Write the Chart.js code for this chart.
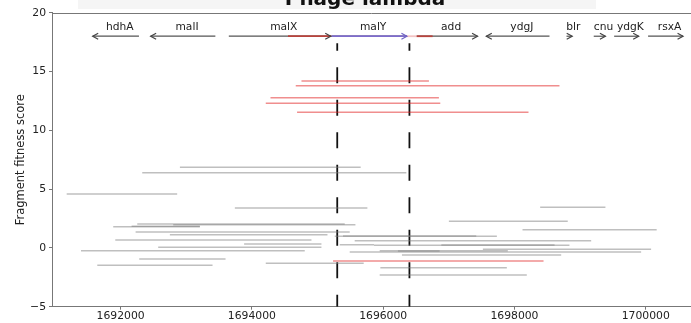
<!DOCTYPE html>
<html>
<head>
<meta charset="utf-8">
<script src="https://cdn.jsdelivr.net/npm/chart.js@4/dist/chart.umd.min.js"></script>
<style>
html,body{margin:0;padding:0;background:#fff;}
#wrap{width:691px;height:323px;position:relative;}
</style>
</head>
<body>
<div id="wrap"><canvas id="c" width="691" height="323"></canvas></div>
<script>
// ---- data ----
const chartTitle = "Phage lambda";
const xTicks = [1692000, 1694000, 1696000, 1698000, 1700000];
const yTicks = [-5, 0, 5, 10, 15, 20];

// genes (bp coordinates, strand)
const geneNames  = ["hdhA", "malI", "malX", "malY", "add", "ydgJ", "blr", "cnu", "ydgK", "rsxA"];
const geneLeft   = [1691574, 1692457, 1693648, 1695211, 1696510, 1697571, 1698793, 1699208, 1699519, 1700036];
const geneRight  = [1692279, 1693443, 1695201, 1696362, 1697438, 1698534, 1698880, 1699386, 1699893, 1700569];
const geneStrand = [-1, -1, 1, 1, 1, -1, 1, 1, 1, 1];
const geneTrackY = 18.0;

// highlighted region on gene track
const hlStart = [1694550, 1695211, 1696362, 1696510];
const hlEnd   = [1695211, 1696362, 1696510, 1696753];
const hlKind  = ["red", "blue", "pink", "red"];

// fragments: grey
const greyStart = [1692903,1692329,1691178,1693740,1698392,1697001,1692253,1692801,1691887,1692167,
                   1698123,1692228,1692750,1695262,1695388,1691918,1695566,1693881,1695338,1696886,
                   1695860,1692572,1691396,1697519,1695947,1696225,1695490,1696286,1692283,1694211,
                   1691644,1695957,1695947];
const greyEnd   = [1695657,1696353,1692861,1695759,1699386,1698812,1695414,1695577,1693207,1693207,
                   1700167,1695490,1695151,1697732,1697418,1694907,1699169,1695059,1695860,1698611,
                   1698838,1695059,1694805,1700082,1697899,1696860,1699930,1698712,1693598,1695703,
                   1693400,1697884,1698188];
const greyScore = [6.85,6.39,4.58,3.39,3.45,2.26,2.03,1.97,1.80,1.85,
                   1.55,1.35,1.12,0.99,1.02,0.67,0.61,0.33,0.27,0.25,
                   0.22,0.05,-0.24,-0.12,-0.24,-0.26,-0.35,-0.60,-0.94,-1.31,
                   -1.48,-1.68,-2.30];
// fragments: red (highlighted)
const redStart = [1694755,1694668,1694283,1694211,1694688,1695236];
const redEnd   = [1696697,1698686,1696849,1696870,1698214,1698443];
const redScore = [14.19,13.79,12.77,12.30,11.53,-1.11];

// vertical markers
const markerX = [1695300, 1696400];
const markerBottom = -5;
const markerTop = 17.4;

const xMin = 1690954, xMax = 1700690, yMin = -5, yMax = 20;

// ---- build datasets ----
const datasets = [];
greyStart.forEach((s, i) => {
  datasets.push({
    data: [{x: s, y: greyScore[i]}, {x: greyEnd[i], y: greyScore[i]}],
    borderColor: 'rgba(128,128,128,0.5)', borderWidth: 1.5,
    showLine: true, pointRadius: 0, pointHoverRadius: 0
  });
});
redStart.forEach((s, i) => {
  datasets.push({
    data: [{x: s, y: redScore[i]}, {x: redEnd[i], y: redScore[i]}],
    borderColor: 'rgba(225,30,30,0.5)', borderWidth: 1.5,
    showLine: true, pointRadius: 0, pointHoverRadius: 0
  });
});
markerX.forEach(x => {
  datasets.push({
    data: [{x: x, y: markerBottom}, {x: x, y: markerTop}],
    borderColor: '#111', borderWidth: 1.8,
    borderDash: [16, 16.5], borderDashOffset: 4.1,
    showLine: true, pointRadius: 0, pointHoverRadius: 0
  });
});

const FONT = "'DejaVu Sans', sans-serif";

const decor = {
  id: 'decor',
  beforeDraw(chart) {
    const ctx = chart.ctx;
    ctx.save();
    ctx.fillStyle = '#f5f5f5';
    ctx.fillRect(78, 0, 518, 9);
    ctx.restore();
  },
  afterDatasetsDraw(chart) {
    const ctx = chart.ctx;
    const xs = chart.scales.x, ys = chart.scales.y;
    const ca = chart.chartArea;
    ctx.save();
    // top spine
    ctx.strokeStyle = '#777';
    ctx.lineWidth = 1;
    ctx.beginPath();
    ctx.moveTo(ca.left, Math.round(ca.top) + 0.5);
    ctx.lineTo(ca.right, Math.round(ca.top) + 0.5);
    ctx.stroke();

    const yp = ys.getPixelForValue(geneTrackY);
    // gene arrows
    geneNames.forEach((name, i) => {
      const x1 = xs.getPixelForValue(geneLeft[i]);
      const x2 = xs.getPixelForValue(geneRight[i]);
      ctx.strokeStyle = '#555';
      ctx.lineWidth = 1.2;
      ctx.beginPath();
      ctx.moveTo(x1, yp); ctx.lineTo(x2, yp);
      ctx.stroke();
    });
    // highlight overlays
    hlStart.forEach((s, i) => {
      const x1 = xs.getPixelForValue(s), x2 = xs.getPixelForValue(hlEnd[i]);
      ctx.strokeStyle = hlKind[i] === 'red' ? '#b8433d' : hlKind[i] === 'blue' ? '#7e6ccc' : '#f3c4c4';
      ctx.lineWidth = 1.8;
      ctx.beginPath();
      ctx.moveTo(x1, yp); ctx.lineTo(x2, yp);
      ctx.stroke();
    });
    // heads + labels
    geneNames.forEach((name, i) => {
      const x1 = xs.getPixelForValue(geneLeft[i]);
      const x2 = xs.getPixelForValue(geneRight[i]);
      const tip = geneStrand[i] > 0 ? x2 : x1;
      const d = geneStrand[i] > 0 ? -1 : 1;
      ctx.strokeStyle = (name === 'malY') ? '#6f63c4' : '#444';
      ctx.lineWidth = 1.2;
      ctx.beginPath();
      ctx.moveTo(tip + d * 5.5, yp - 3);
      ctx.lineTo(tip, yp);
      ctx.lineTo(tip + d * 5.5, yp + 3);
      ctx.stroke();
      ctx.fillStyle = '#222';
      ctx.font = "10.7px " + FONT;
      ctx.textAlign = 'center';
      ctx.textBaseline = 'alphabetic';
      ctx.fillText(name, (x1 + x2) / 2 + 4, yp - 6.7);
    });
    // chart title (cut at top)
    ctx.fillStyle = '#111';
    ctx.font = "bold 20px " + FONT;
    ctx.textAlign = 'center';
    ctx.textBaseline = 'alphabetic';
    ctx.fillText(chartTitle, 365, 5);
    ctx.restore();
  }
};

new Chart(document.getElementById('c'), {
  type: 'scatter',
  data: { datasets },
  options: {
    responsive: false,
    animation: false,
    events: [],
    layout: { padding: { top: 12.7, right: 0, left: 0, bottom: 0 } },
    plugins: { legend: { display: false }, tooltip: { enabled: false }, title: { display: false } },
    scales: {
      x: {
        type: 'linear', min: xMin, max: xMax,
        afterBuildTicks: s => { s.ticks = xTicks.map(v => ({value: v})); },
        afterFit: s => { s.height = 16.3; },
        grid: { drawOnChartArea: false, drawTicks: true, tickLength: 3, color: '#777' },
        border: { display: true, color: '#777', width: 1 },
        ticks: { padding: 0, color: '#222', font: { family: FONT, size: 10.8 }, maxRotation: 0,
                 callback: v => String(v) }
      },
      y: {
        type: 'linear', min: yMin, max: yMax,
        afterBuildTicks: s => { s.ticks = yTicks.map(v => ({value: v})); },
        afterFit: s => { s.width = 52; },
        grid: { drawOnChartArea: false, drawTicks: true, tickLength: 3, color: '#777' },
        border: { display: true, color: '#777', width: 1 },
        ticks: { padding: 3, color: '#222', font: { family: FONT, size: 10.8 },
                 callback: v => String(v).replace('-', '\u2212') },
        title: { display: true, text: 'Fragment fitness score', color: '#222',
                 font: { family: FONT, size: 11.5 }, padding: { top: 14, bottom: 0 } }
      }
    }
  },
  plugins: [decor]
});
</script>
</body>
</html>
